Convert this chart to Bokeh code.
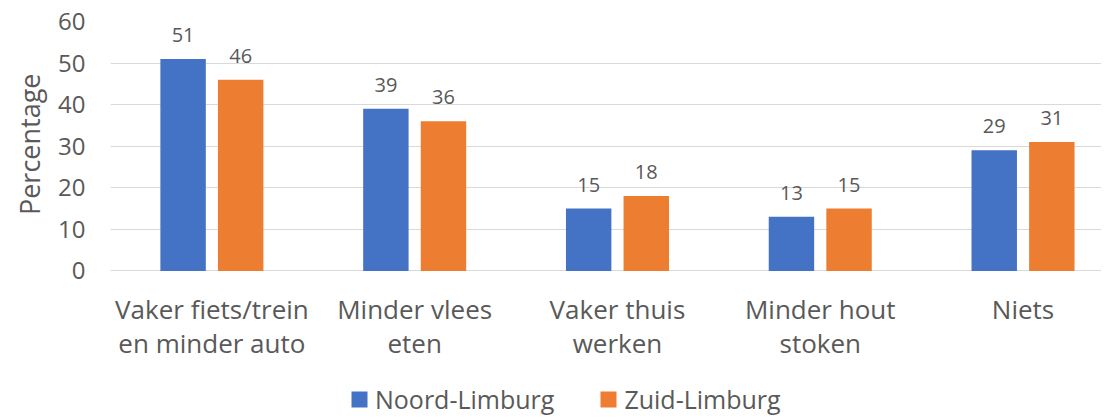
from bokeh.plotting import figure
from bokeh.models import ColumnDataSource, FixedTicker, Legend, LegendItem, Range1d, Title
from bokeh.core.properties import value
from bokeh.embed import file_html
from bokeh.resources import INLINE

# ---- data ----
categories = ["Vaker fiets/trein\nen minder auto", "Minder vlees\neten",
              "Vaker thuis\nwerken", "Minder hout\nstoken", "Niets"]
noord = [51, 39, 15, 13, 29]
zuid = [46, 36, 18, 15, 31]
series_names = ["Noord-Limburg", "Zuid-Limburg"]
y_ticks = [0, 10, 20, 30, 40, 50, 60]
y_title = "Percentage"

FONT = "Open Sans"
TEXT = "#595959"
BLUE = "#4472C4"
ORANGE = "#ED7D31"

centers = [i + 0.5 for i in range(len(categories))]
off = 0.142
bw = 0.224

src_n = ColumnDataSource(dict(x=[c - off for c in centers], top=noord,
                              lab=[str(v) for v in noord]))
src_z = ColumnDataSource(dict(x=[c + off for c in centers], top=zuid,
                              lab=[str(v) for v in zuid]))
src_c = ColumnDataSource(dict(x=centers, y=[0] * len(centers), text=categories))

H = 416
TOP = 21
LEFT = 107
px_per_unit = 249.4 / 60
y_start = -((H - TOP) - 249.4) / px_per_unit
x_end = (1101 - LEFT) / 203.4

p = figure(width=1101, height=H, x_range=Range1d(0, x_end),
           y_range=Range1d(y_start, 60),
           output_backend="svg", toolbar_location=None, x_axis_location=None,
           min_border_left=LEFT, min_border_right=0, min_border_top=TOP,
           min_border_bottom=0)
p.outline_line_color = None
p.background_fill_color = "white"
p.border_fill_color = "white"

r1 = p.vbar(x="x", top="top", width=bw, source=src_n, fill_color=BLUE, line_color=None)
r2 = p.vbar(x="x", top="top", width=bw, source=src_z, fill_color=ORANGE, line_color=None)

for s in (src_n, src_z):
    p.text(x="x", y="top", text="lab", source=s, text_align="center",
           text_baseline="alphabetic", y_offset=-24, text_font=value(FONT),
           text_font_size="20px", text_color=TEXT)

# category labels below the zero line
p.text(x="x", y="y", text="text", source=src_c, text_align="center",
       text_baseline="top", y_offset=20, text_font=value(FONT),
       text_font_size="26px", text_color=TEXT, text_line_height=0.95)

# grid
p.xgrid.visible = False
p.ygrid.grid_line_color = "#D9D9D9"
p.ygrid.grid_line_width = 1
p.ygrid.ticker = FixedTicker(ticks=y_ticks)

# y axis
ya = p.yaxis[0]
ya.ticker = FixedTicker(ticks=y_ticks)
ya.bounds = (0, 60)
ya.axis_line_color = None
ya.major_tick_line_color = None
ya.minor_tick_line_color = None
ya.major_tick_out = 0
ya.major_tick_in = 0
ya.minor_tick_out = 0
ya.minor_tick_in = 0
ya.major_label_standoff = 25
ya.major_label_text_font = FONT
ya.major_label_text_font_size = "24px"
ya.major_label_text_color = TEXT

# y axis title, placed over the 0-60 span
p.add_layout(Title(text=y_title, align="right", offset=52, standoff=16,
                   text_font=FONT, text_font_size="27px", text_font_style="normal",
                   text_color=TEXT), "left")

legend = Legend(items=[LegendItem(label=series_names[0], renderers=[r1]),
                       LegendItem(label=series_names[1], renderers=[r2])],
                location=(239, 0), orientation="horizontal",
                glyph_width=20, glyph_height=20, label_standoff=6, spacing=44,
                padding=0, margin=0, border_line_color=None,
                background_fill_alpha=0,
                label_text_font=FONT, label_text_font_size="25px",
                label_text_color=TEXT)
p.add_layout(legend, "center")

open("out.html", "w").write(file_html(p, INLINE))
